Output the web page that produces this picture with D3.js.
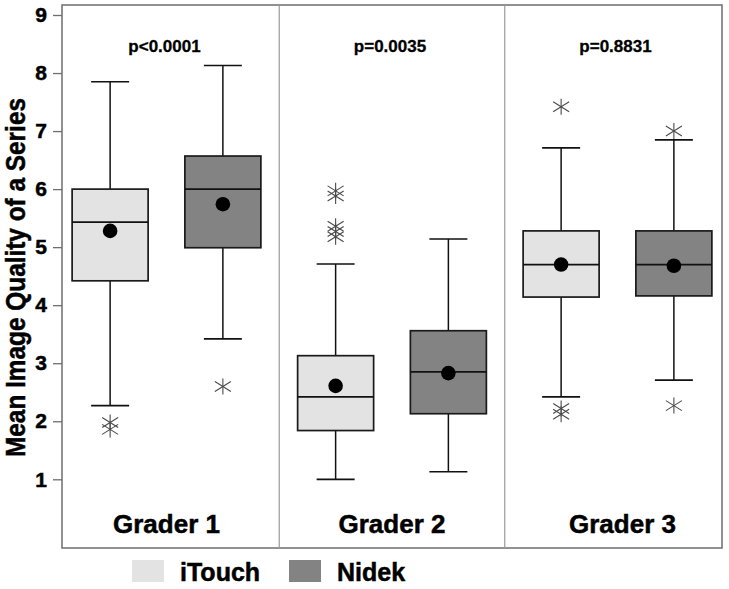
<!DOCTYPE html>
<html>
<head>
<meta charset="utf-8">
<script src="https://cdn.jsdelivr.net/npm/d3@7"></script>
<style>
  html, body { margin: 0; padding: 0; background: #fff; }
  svg { display: block; font-family: "Liberation Sans", Arial, Helvetica, sans-serif; }
</style>
</head>
<body>
<svg id="chart" width="729" height="589"></svg>
<script>
// ---- data ----
const graders = ["Grader 1", "Grader 2", "Grader 3"];
const devices = ["iTouch", "Nidek"];
const pValues = ["p<0.0001", "p=0.0035", "p=0.8831"];
const yTicks = [1, 2, 3, 4, 5, 6, 7, 8, 9];

const iTouchLow      = [2.27, 1.00, 2.42];
const iTouchQ1       = [4.42, 1.84, 4.14];
const iTouchMedian   = [5.43, 2.42, 4.70];
const iTouchQ3       = [6.00, 3.13, 5.28];
const iTouchHigh     = [7.85, 4.71, 6.71];
const iTouchMean     = [5.28, 2.61, 4.70];
const iTouchOutliers = [[1.98, 1.86], [5.97, 5.88, 5.36, 5.27, 5.18], [7.42, 2.22, 2.12]];

const nidekLow      = [3.42, 1.13, 2.71];
const nidekQ1       = [4.99, 2.13, 4.16];
const nidekMedian   = [6.00, 2.85, 4.70];
const nidekQ3       = [6.57, 3.56, 5.28];
const nidekHigh     = [8.13, 5.14, 6.85];
const nidekMean     = [5.74, 2.83, 4.68];
const nidekOutliers = [[2.60], [], [7.00, 2.27]];

const deviceColors = ["#e3e3e3", "#838383"];

// ---- build table ----
const seriesData = {
  iTouch: { low: iTouchLow, q1: iTouchQ1, med: iTouchMedian, q3: iTouchQ3, high: iTouchHigh, mean: iTouchMean, out: iTouchOutliers },
  Nidek:  { low: nidekLow,  q1: nidekQ1,  med: nidekMedian,  q3: nidekQ3,  high: nidekHigh,  mean: nidekMean,  out: nidekOutliers }
};
const boxes = [];
graders.forEach((g, gi) => {
  devices.forEach((d, di) => {
    const s = seriesData[d];
    boxes.push({ grader: g, device: d, di, low: s.low[gi], q1: s.q1[gi], med: s.med[gi], q3: s.q3[gi], high: s.high[gi], mean: s.mean[gi], out: s.out[gi] });
  });
});

// ---- layout ----
const svg = d3.select("#chart");
const frame = { left: 62, right: 722, top: 5, bottom: 548 };

const x0 = d3.scaleBand().domain(graders).range([53.75, 730.25]).padding(0);
const x1 = d3.scalePoint().domain(devices).range([0, x0.bandwidth()]).padding(0.5);
const y = d3.scaleLinear().domain([1, 9]).range([479.3, 15]);
const color = d3.scaleOrdinal().domain(devices).range(deviceColors);

const boxW = 76, capW = 38;

// frame
svg.append("rect")
  .attr("x", frame.left).attr("y", frame.top)
  .attr("width", frame.right - frame.left).attr("height", frame.bottom - frame.top)
  .attr("fill", "none").attr("stroke", "#6e6e6e").attr("stroke-width", 1.5);

// panel dividers
graders.slice(1).forEach(g => {
  svg.append("line")
    .attr("x1", x0(g)).attr("x2", x0(g))
    .attr("y1", frame.top).attr("y2", frame.bottom)
    .attr("stroke", "#9a9a9a").attr("stroke-width", 1.2);
});

// y axis
const yAxis = d3.axisLeft(y).tickValues(yTicks).tickSize(9).tickPadding(6).tickFormat(d3.format("d"));
const ax = svg.append("g").attr("transform", `translate(${frame.left},0)`).call(yAxis);
ax.select(".domain").remove();
ax.selectAll(".tick line").attr("stroke", "#6e6e6e").attr("stroke-width", 1.3);
ax.attr("font-size", null).attr("font-family", null);
ax.selectAll(".tick text")
  .attr("fill", "#000").attr("stroke", "#000").attr("stroke-width", 0.5)
  .style("font-size", "21px").style("font-weight", "bold")
  .style("font-family", "'Liberation Sans', Arial, sans-serif");

// y title
svg.append("text")
  .attr("transform", "translate(25,277.5) rotate(-90)")
  .attr("text-anchor", "middle")
  .attr("textLength", 359).attr("lengthAdjust", "spacingAndGlyphs")
  .attr("stroke", "#000").attr("stroke-width", 0.5)
  .style("font-size", "28px").style("font-weight", "bold").attr("fill", "#000")
  .text("Mean Image Quality of a Series");

// boxes
const g = svg.append("g");
boxes.forEach(b => {
  const cx = x0(b.grader) + x1(b.device);
  const grp = g.append("g");
  // whiskers
  grp.append("line").attr("x1", cx).attr("x2", cx).attr("y1", y(b.q3)).attr("y2", y(b.high))
    .attr("stroke", "#111").attr("stroke-width", 1.5);
  grp.append("line").attr("x1", cx).attr("x2", cx).attr("y1", y(b.q1)).attr("y2", y(b.low))
    .attr("stroke", "#111").attr("stroke-width", 1.5);
  grp.append("line").attr("x1", cx - capW / 2).attr("x2", cx + capW / 2).attr("y1", y(b.high)).attr("y2", y(b.high))
    .attr("stroke", "#111").attr("stroke-width", 1.7);
  grp.append("line").attr("x1", cx - capW / 2).attr("x2", cx + capW / 2).attr("y1", y(b.low)).attr("y2", y(b.low))
    .attr("stroke", "#111").attr("stroke-width", 1.7);
  // box
  grp.append("rect").attr("x", cx - boxW / 2).attr("y", y(b.q3))
    .attr("width", boxW).attr("height", y(b.q1) - y(b.q3))
    .attr("fill", color(b.device)).attr("stroke", "#1a1a1a").attr("stroke-width", 1.7);
  // median
  grp.append("line").attr("x1", cx - boxW / 2).attr("x2", cx + boxW / 2).attr("y1", y(b.med)).attr("y2", y(b.med))
    .attr("stroke", "#111").attr("stroke-width", 1.7);
  // mean
  grp.append("circle").attr("cx", cx).attr("cy", y(b.mean)).attr("r", 7.3).attr("fill", "#000");
  // outliers (asterisks)
  b.out.forEach(v => {
    const oy = y(v);
    const o = grp.append("g").attr("transform", `translate(${cx},${oy})`)
      .attr("stroke", "#4a4a4a").attr("stroke-width", 1.1);
    o.append("line").attr("x1", 0).attr("x2", 0).attr("y1", -8).attr("y2", 8);
    o.append("line").attr("x1", -8).attr("x2", 8).attr("y1", -5).attr("y2", 5);
    o.append("line").attr("x1", -8).attr("x2", 8).attr("y1", 5).attr("y2", -5);
  });
});

// p-values and grader labels
graders.forEach((gname, gi) => {
  svg.append("text")
    .attr("x", x0(gname) + x0.bandwidth() / 2 - 2).attr("y", 52)
    .attr("text-anchor", "middle")
    .attr("stroke", "#000").attr("stroke-width", 0.3)
    .style("font-size", "17px").style("font-weight", "bold").attr("fill", "#000")
    .text(pValues[gi]);
  svg.append("text")
    .attr("x", x0(gname) + x0.bandwidth() / 2 + (gi === 2 ? 5 : 0)).attr("y", 533)
    .attr("text-anchor", "middle")
    .attr("stroke", "#000").attr("stroke-width", 0.5)
    .style("font-size", "26px").style("font-weight", "bold").attr("fill", "#000")
    .text(gname);
});

// legend
const legendX = [132, 289];
const legend = svg.append("g");
devices.forEach((d, i) => {
  legend.append("rect").attr("x", legendX[i]).attr("y", 560).attr("width", 32).attr("height", 22)
    .attr("fill", color(d)).attr("stroke", "none");
  legend.append("text").attr("x", legendX[i] + 48).attr("y", 581)
    .attr("stroke", "#000").attr("stroke-width", 0.5)
    .style("font-size", "25px").style("font-weight", "bold").attr("fill", "#000")
    .text(d);
});
</script>
</body>
</html>
